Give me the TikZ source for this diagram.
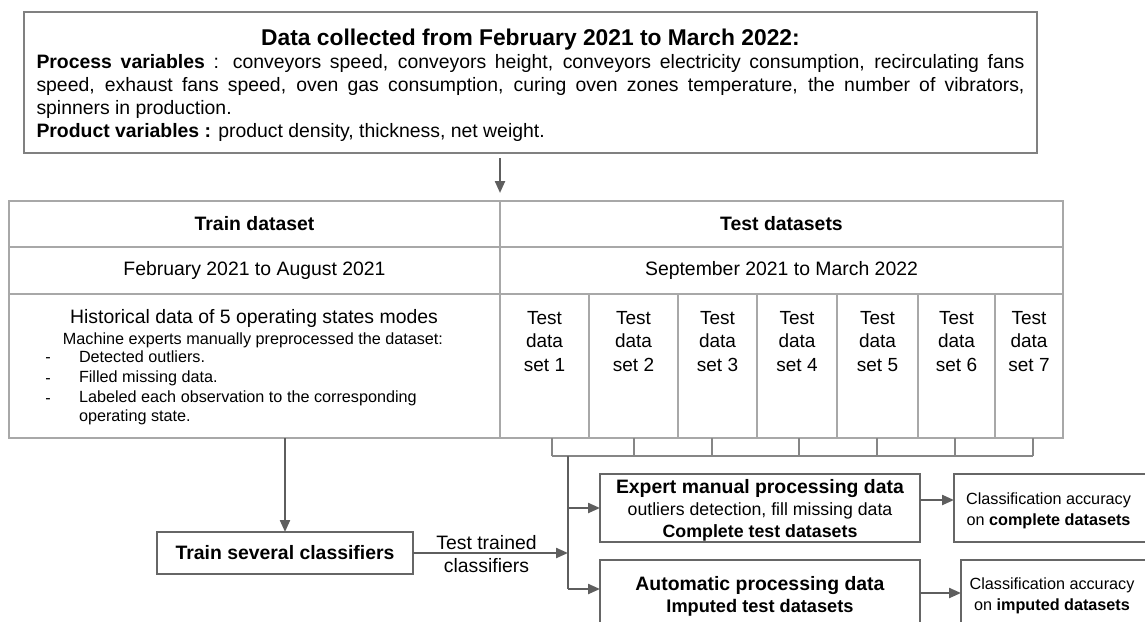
\documentclass[tikz,border=0pt]{standalone}
\usepackage{fontspec}
\setmainfont{Liberation Sans}
\usetikzlibrary{arrows.meta}
\definecolor{tabgray}{HTML}{A8A8A8}
\definecolor{boxgray}{HTML}{666666}
\definecolor{topgray}{HTML}{808080}
\definecolor{arrgray}{HTML}{5E5E5E}
\begin{document}
\begin{tikzpicture}[x=1pt,y=-1pt,
  every node/.style={inner sep=0pt, outer sep=0pt},
  cell/.style={draw=tabgray, line width=1.3pt, anchor=north west},
  box/.style={draw=boxgray, line width=1.5pt, anchor=north west},
  arr/.style={draw=arrgray, line width=2.2pt, -{Triangle[length=12pt,width=10pt]}},
  brk/.style={draw=tabgray!80!black, line width=1.3pt},
  bus/.style={draw=arrgray, line width=1.6pt},
  hdr/.style={font=\fontsize{19.4}{23}\selectfont\bfseries},
  txt/.style={font=\fontsize{19.4}{23}\selectfont},
  small/.style={font=\fontsize{16.2}{20}\selectfont},
  tcell/.style={font=\fontsize{19}{23.5}\selectfont, align=center, anchor=north},
  cls/.style={font=\fontsize{16.2}{21}\selectfont, align=center}
]
\useasboundingbox (0,0) rectangle (1145,621);
\fill[white] (0,0) rectangle (1145,621);

% top box
\node[draw=topgray, line width=1.5pt, minimum width=1013pt, minimum height=141pt] (topbox) at (530.5,82.5) {};
\node[text width=988pt, align=justify, font=\fontsize{19.4}{23}\selectfont] (top) at (530.5,85)
 {\makebox[988pt][c]{\fontsize{22.8}{26}\selectfont\bfseries Data collected from February 2021 to March 2022:}\\[0pt]
  \textbf{Process variables} : conveyors speed, conveyors height, conveyors electricity consumption, recirculating fans\linebreak
  speed, exhaust fans speed, oven gas consumption, curing oven zones temperature, the number of vibrators,\linebreak
  spinners in production.\\
  \textbf{Product variables :} product density, thickness, net weight.};

% table
\node[cell, hdr, minimum width=491pt, minimum height=46pt] (trh) at (9,201) {Train dataset};
\node[cell, hdr, minimum width=563pt, minimum height=46pt] (teh) at (500,201) {Test datasets};
\node[cell, txt, minimum width=491pt, minimum height=47pt] (trd) at (9,247) {February 2021 to August 2021};
\node[cell, txt, minimum width=563pt, minimum height=47pt] (ted) at (500,247) {September 2021 to March 2022};
\node[cell, minimum width=491pt, minimum height=144pt] (trc) at (9,294) {};
\node[cell, minimum width=89pt, minimum height=144pt] (t1) at (500,294) {};
\node[cell, minimum width=89pt, minimum height=144pt] (t2) at (589,294) {};
\node[cell, minimum width=79pt, minimum height=144pt] (t3) at (678,294) {};
\node[cell, minimum width=80pt, minimum height=144pt] (t4) at (757,294) {};
\node[cell, minimum width=81pt, minimum height=144pt] (t5) at (837,294) {};
\node[cell, minimum width=77pt, minimum height=144pt] (t6) at (918,294) {};
\node[cell, minimum width=68pt, minimum height=144pt] (t7) at (995,294) {};

\node[txt] (hist) at (254,318) {Historical data of 5 operating states modes};
\node[small] (mach) at (253,340) {Machine experts manually preprocessed the dataset:};
\node[small] (d1) at (48,360) {-};
\node[small] (d2) at (48,381) {-};
\node[small] (d3) at (48,401) {-};
\node[small, anchor=west] (l1) at (79,357) {Detected outliers.};
\node[small, anchor=west] (l2) at (79,378) {Filled missing data.};
\node[small, anchor=west] (l3) at (79,398) {Labeled each observation to the corresponding};
\node[small, anchor=west] (l4) at (79,417) {operating state.};

\node[tcell] (c1) at (t1.north |- 0,311) {Test\\data\\set 1};
\node[tcell] (c2) at (t2.north |- 0,311) {Test\\data\\set 2};
\node[tcell] (c3) at (t3.north |- 0,311) {Test\\data\\set 3};
\node[tcell] (c4) at (t4.north |- 0,311) {Test\\data\\set 4};
\node[tcell] (c5) at (t5.north |- 0,311) {Test\\data\\set 5};
\node[tcell] (c6) at (t6.north |- 0,311) {Test\\data\\set 6};
\node[tcell] (c7) at (t7.north |- 0,311) {Test\\data\\set 7};

% arrow from top box to table
\draw[arr] ([yshift=-5pt]topbox.south -| teh.north west) -- ([yshift=8pt]teh.north west);

% bracket under test cells
\foreach \c/\dx in {t1/7.5,t2/0.5,t3/-5.5,t4/2,t5/-0.5,t6/-1.5,t7/4}
  \draw[brk] ([xshift=\dx pt]\c.south) -- ++(0,18);
\draw[brk] ([xshift=7.5pt,yshift=-18pt]t1.south) -- ([xshift=4pt,yshift=-18pt]t7.south);

% lower boxes
\node[box, minimum width=256pt, minimum height=42pt, hdr] (train) at (157,532) {Train several classifiers};
\node[box, minimum width=320pt, minimum height=68pt] (expert) at (600,474) {};
\node[align=center, font=\fontsize{19.4}{22}\selectfont, yshift=-2pt] (expertt) at (expert.center)
 {\textbf{Expert manual processing data}\\
  {\fontsize{17.7}{22}\selectfont outliers detection, fill missing data}\\
  {\fontsize{17.8}{22}\selectfont\bfseries Complete test datasets}};
\node[box, minimum width=320pt, minimum height=68pt] (auto) at (600,560) {};
\node[align=center, font=\fontsize{19.4}{22}\selectfont, yshift=-2pt] (autot) at (auto.center)
 {\textbf{Automatic processing data}\\
  {\fontsize{18.2}{22}\selectfont\bfseries Imputed test datasets}};
\node[box, minimum width=195pt, minimum height=68pt] (cls1) at (954,474) {};
\node[cls, xshift=-3pt, yshift=-2.5pt] (cls1t) at (cls1.center)
 {Classification accuracy\\on \textbf{complete datasets}};
\node[box, minimum width=188pt, minimum height=68pt] (cls2) at (961,560) {};
\node[cls, xshift=-3pt, yshift=-2pt] (cls2t) at (cls2.center)
 {Classification accuracy\\on \textbf{imputed datasets}};

% connectors
\coordinate (bus) at (568,456);
\coordinate (busend) at (568,589);
\draw[bus] (bus) -- (busend);
\draw[arr] (trc.south -| train.north) -- (train.north);
\draw[arr] (train.east) -- (train.east -| bus)
  node[midway, align=center, font=\fontsize{19.4}{23}\selectfont, xshift=-4pt, yshift=-1pt] (lbl) {Test trained\\classifiers};
\draw[arr] (bus |- expert.west) -- (expert.west);
\draw[arr] (busend) -- (busend -| auto.west);
\draw[arr] ([yshift=8pt]expert.east) -- ([yshift=8pt]expert.east -| cls1.west);
\draw[arr] ([yshift=1pt]auto.east) -- ([yshift=1pt]auto.east -| cls2.west);
\end{tikzpicture}
\end{document}
